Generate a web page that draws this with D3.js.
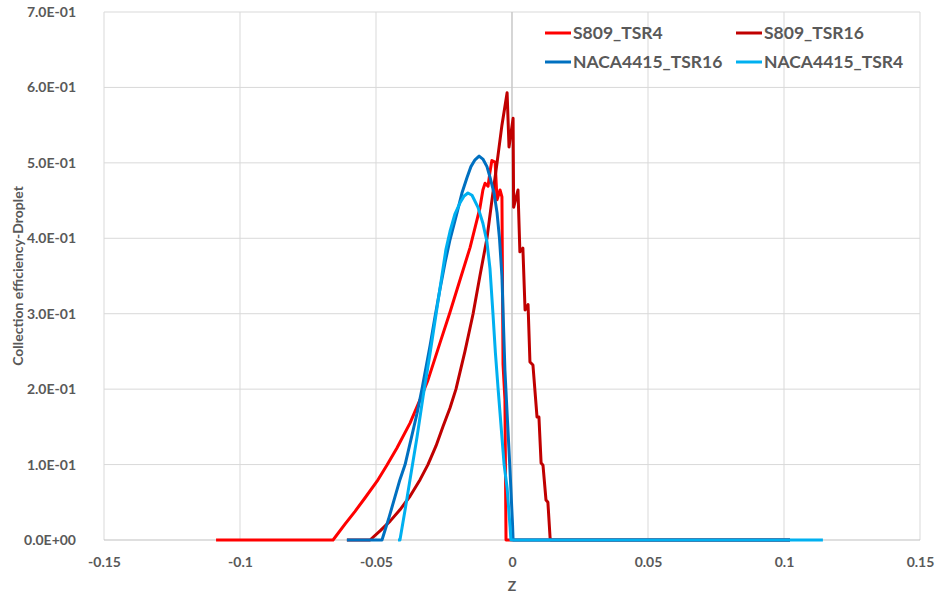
<!DOCTYPE html>
<meta charset="utf-8">
<head>
	<title>Collection efficiency - Droplet</title>
	<script src="https://cdn.jsdelivr.net/npm/d3@7"></script>
	<style>
		body { margin: 0; background: #fff; }
		text { font-family: Lato, "Open Sans", sans-serif; font-weight: bold; fill: #595959; }
	</style>
</head>
<body>
	<svg width="939" height="596" id="chart"></svg>
	<script>
		// axis ticks
		var xTicks = [-0.15, -0.1, -0.05, 0, 0.05, 0.1, 0.15];
		var xTickLabels = ["-0.15", "-0.1", "-0.05", "0", "0.05", "0.1", "0.15"];
		var yTicks = [0, 0.1, 0.2, 0.3, 0.4, 0.5, 0.6, 0.7];

		// series
		var s809Tsr4X = [-0.1088, -0.0658, -0.0614, -0.0577, -0.0540, -0.0496, -0.0460, -0.0423, -0.0375, -0.0338, -0.0309, -0.0265, -0.0228, -0.0191, -0.0154, -0.0118, -0.0107, -0.0099, -0.0088, -0.0081, -0.0074, -0.0062, -0.0055, -0.0044, -0.0037, -0.0033, -0.0026, -0.0022, 0.1022];
		var s809Tsr4Y = [0, 0, 0.021, 0.038, 0.056, 0.078, 0.099, 0.122, 0.155, 0.186, 0.212, 0.261, 0.302, 0.345, 0.388, 0.440, 0.464, 0.473, 0.469, 0.488, 0.503, 0.501, 0.451, 0.464, 0.455, 0.233, 0.186, 0, 0];

		var s809Tsr16X = [-0.0607, -0.0522, -0.0485, -0.0448, -0.0412, -0.0375, -0.0338, -0.0309, -0.0279, -0.0254, -0.0228, -0.0206, -0.0173, -0.0143, -0.0118, -0.0092, -0.0074, -0.0055, -0.0037, -0.0018, -0.0011, 0.0004, 0.0006, 0.0022, 0.0029, 0.0040, 0.0048, 0.0059, 0.0066, 0.0077, 0.0092, 0.0099, 0.0107, 0.0114, 0.0125, 0.0132, 0.0140, 0.0143, 0.1022];
		var s809Tsr16Y = [0, 0, 0.012, 0.025, 0.040, 0.058, 0.080, 0.100, 0.125, 0.150, 0.175, 0.200, 0.250, 0.300, 0.350, 0.400, 0.450, 0.500, 0.550, 0.593, 0.521, 0.559, 0.441, 0.464, 0.382, 0.387, 0.305, 0.312, 0.236, 0.232, 0.163, 0.163, 0.102, 0.099, 0.053, 0.050, 0.003, 0, 0];

		var naca16X = [-0.0607, -0.0478, -0.0452, -0.0412, -0.0393, -0.0349, -0.0331, -0.0301, -0.0283, -0.0265, -0.0246, -0.0228, -0.0202, -0.0184, -0.0165, -0.0151, -0.0136, -0.0121, -0.0107, -0.0092, -0.0081, -0.0066, -0.0055, -0.0046, -0.0037, -0.0026, -0.0007, 0.0002, 0.0004, 0.1022];
		var naca16Y = [0, 0, 0.030, 0.080, 0.100, 0.168, 0.200, 0.258, 0.296, 0.332, 0.368, 0.398, 0.434, 0.460, 0.481, 0.495, 0.504, 0.509, 0.505, 0.495, 0.481, 0.460, 0.434, 0.400, 0.350, 0.225, 0.090, 0.020, 0, 0];

		var naca4X = [-0.0419, -0.0412, -0.0393, -0.0375, -0.0349, -0.0327, -0.0301, -0.0279, -0.0257, -0.0243, -0.0228, -0.0210, -0.0191, -0.0176, -0.0162, -0.0147, -0.0125, -0.0107, -0.0092, -0.0081, -0.0070, -0.0061, -0.0051, -0.0029, -0.0018, -0.0007, -0.0004, 0.1143];
		var naca4Y = [0, 0, 0.040, 0.080, 0.137, 0.190, 0.248, 0.300, 0.352, 0.385, 0.409, 0.432, 0.447, 0.456, 0.460, 0.457, 0.441, 0.420, 0.395, 0.360, 0.300, 0.248, 0.200, 0.100, 0.069, 0.017, 0, 0];

		var seriesNames = ["S809_TSR4", "S809_TSR16", "NACA4415_TSR16", "NACA4415_TSR4"];
		var seriesColors = ["#ff0000", "#c00000", "#0070c0", "#00b0f0"];

		var series = [
			{ name: seriesNames[0], color: seriesColors[0], xs: s809Tsr4X, ys: s809Tsr4Y },
			{ name: seriesNames[1], color: seriesColors[1], xs: s809Tsr16X, ys: s809Tsr16Y },
			{ name: seriesNames[2], color: seriesColors[2], xs: naca16X, ys: naca16Y },
			{ name: seriesNames[3], color: seriesColors[3], xs: naca4X, ys: naca4Y }
		];

		// plot box (window.top is read-only, so no plain "top" here)
		var pLeft = 104, pRight = 920, pTop = 12, pBottom = 540;

		var x = d3.scaleLinear().domain([-0.15, 0.15]).range([pLeft, pRight]);
		var y = d3.scaleLinear().domain([0, 0.7]).range([pBottom, pTop]);

		function sci(d) {
			if (d == 0) return "0.0E+00";
			var e = Math.floor(Math.log10(d) + 1e-9);
			var m = d / Math.pow(10, e);
			var ea = Math.abs(e);
			return m.toFixed(1) + "E" + (e < 0 ? "-" : "+") + (ea < 10 ? "0" : "") + ea;
		}

		var svg = d3.select("#chart");

		// gridlines
		svg.append("g")
			.selectAll("line")
			.data(yTicks.filter(function (d) { return d > 0; }))
			.enter()
			.append("line")
			.attr("x1", pLeft).attr("x2", pRight)
			.attr("y1", function (d) { return y(d); })
			.attr("y2", function (d) { return y(d); })
			.attr("stroke", "#d9d9d9")
			.attr("stroke-width", 1);

		svg.append("g")
			.selectAll("line")
			.data(xTicks)
			.enter()
			.append("line")
			.attr("x1", function (d) { return x(d); })
			.attr("x2", function (d) { return x(d); })
			.attr("y1", pTop).attr("y2", pBottom)
			.attr("stroke", "#d9d9d9")
			.attr("stroke-width", 1);

		// zero axis lines
		svg.append("line")
			.attr("x1", x(0)).attr("x2", x(0))
			.attr("y1", pTop).attr("y2", pBottom)
			.attr("stroke", "#bfbfbf");
		svg.append("line")
			.attr("x1", pLeft).attr("x2", pRight)
			.attr("y1", y(0)).attr("y2", y(0))
			.attr("stroke", "#bfbfbf");

		// y tick labels
		var yAxis = d3.axisLeft(y).tickValues(yTicks).tickFormat(sci).tickSize(0).tickPadding(0);
		var ya = svg.append("g")
			.attr("transform", "translate(76,0)")
			.call(yAxis);
		ya.select(".domain").remove();
		ya.selectAll("text")
			.attr("font-size", "14px")
			.attr("font-family", null)
			.attr("fill", null);

		// x tick labels
		var xAxis = d3.axisBottom(x).tickValues(xTicks)
			.tickFormat(function (d, i) { return xTickLabels[i]; })
			.tickSize(0).tickPadding(0);
		var xa = svg.append("g")
			.attr("transform", "translate(0," + (pBottom + 17) + ")")
			.call(xAxis);
		xa.select(".domain").remove();
		xa.selectAll("text")
			.attr("font-size", "14px")
			.attr("font-family", null)
			.attr("fill", null);

		// lines
		var line = d3.line()
			.x(function (d) { return x(d[0]); })
			.y(function (d) { return y(d[1]); });

		svg.append("g")
			.selectAll("path")
			.data(series)
			.enter()
			.append("path")
			.attr("d", function (s) { return line(d3.zip(s.xs, s.ys)); })
			.attr("fill", "none")
			.attr("stroke", function (s) { return s.color; })
			.attr("stroke-width", 3)
			.attr("stroke-linejoin", "round");

		// axis titles
		svg.append("text")
			.attr("x", x(0))
			.attr("y", 591)
			.attr("text-anchor", "middle")
			.attr("font-size", "14px")
			.text("Z");

		svg.append("text")
			.attr("transform", "translate(23," + ((pTop + pBottom) / 2) + ") rotate(-90)")
			.attr("text-anchor", "middle")
			.attr("font-size", "14px")
			.text("Collection efficiency-Droplet");

		// legend
		var lg = svg.append("g").selectAll("g")
			.data(series)
			.enter()
			.append("g")
			.attr("transform", function (d, i) {
				return "translate(" + (i % 2 == 0 ? 545 : 736) + "," + (i < 2 ? 33 : 62) + ")";
			});
		lg.append("line")
			.attr("x1", 0).attr("x2", 26)
			.attr("stroke", function (d) { return d.color; })
			.attr("stroke-width", 3);
		lg.append("text")
			.attr("x", 28)
			.attr("dy", "0.36em")
			.attr("font-size", "17.5px")
			.text(function (d) { return d.name; });
	</script>
</body>
